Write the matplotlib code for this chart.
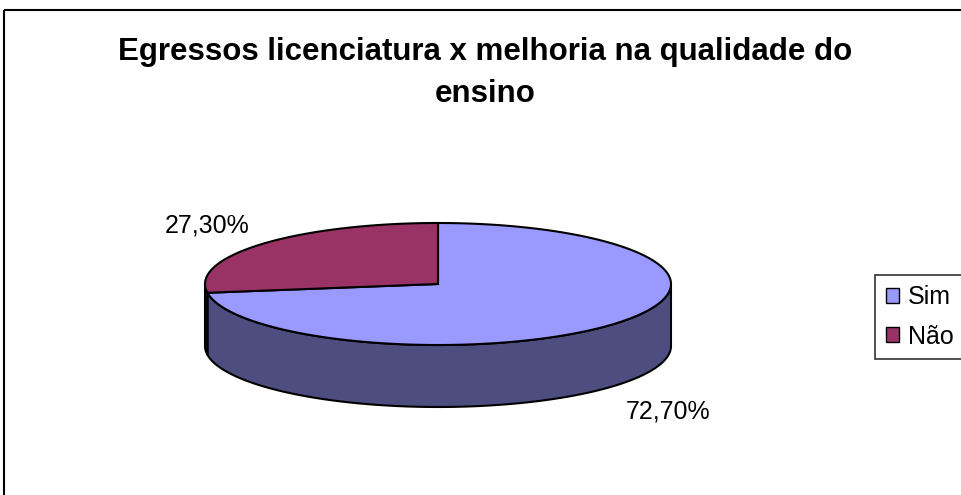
import numpy as np
import matplotlib
matplotlib.use('Agg')
import matplotlib.pyplot as plt
from matplotlib.patches import Polygon, Rectangle

plt.rcParams['font.family'] = ['Liberation Sans', 'DejaVu Sans']

# data
categorias = ['Sim', 'Não']
valores = [72.7, 27.3]
rotulos = ['72,70%', '27,30%']
titulo = 'Egressos licenciatura x melhoria na qualidade do\nensino'

cor_topo = ['#9999FF', '#993366']
cor_lado = ['#4D4D80', '#4D1A33']

# pie geometry (pixels)
cx, cy = 438, 284
ra, rb = 233, 61
prof = 62

fig = plt.figure(figsize=(9.61, 4.95), dpi=100)
ax = fig.add_axes([0, 0, 1, 1])
ax.set_xlim(0, 961)
ax.set_ylim(495, 0)
ax.axis('off')

# outer chart border
ax.add_patch(Rectangle((4, 10), 1000, 600, fill=False, ec='black', lw=1.5, zorder=1))


def arco(t0, t1, dy=0, n=200):
    t = np.radians(np.linspace(t0, t1, n))
    return np.column_stack([cx + ra * np.cos(t), cy - rb * np.sin(t) + dy])


# slice angle ranges: Sim clockwise from 12 o'clock, Não the rest
total = sum(valores)
ang_sim = valores[0] / total * 360
faixas = [(90 - ang_sim + 360, 450), (90, 90 - ang_sim + 360)]  # counterclockwise ranges

# side walls (front half: 180..360)
for (t0, t1), cl in zip(faixas, cor_lado):
    a0, a1 = max(t0, 180), min(t1, 360)
    if a1 > a0:
        top = arco(a0, a1)
        bot = arco(a1, a0, prof)
        ax.add_patch(Polygon(np.vstack([top, bot]), closed=True, fc=cl, ec='black',
                             lw=1.5, zorder=2))

# top faces
for (t0, t1), ct in zip(faixas, cor_topo):
    pts = np.vstack([[cx, cy], arco(t0, t1)])
    ax.add_patch(Polygon(pts, closed=True, fc=ct, ec='black', lw=1.5, zorder=3))

# data labels
ax.text(668, 411, rotulos[0], fontsize=18, ha='center', va='center')
ax.text(207, 225, rotulos[1], fontsize=18, ha='center', va='center')

# title
ax.text(485, 102, titulo, fontsize=22.5, fontweight='bold', ha='center', va='baseline',
        multialignment='center', linespacing=1.53)

# legend
handles = [Rectangle((0, 0), 1, 1, fc=c, ec='black', lw=1) for c in cor_topo]
leg = fig.legend(handles, categorias, loc='upper left',
                 bbox_to_anchor=(875 / 961, 1 - 275 / 495), fontsize=18,
                 frameon=True, fancybox=False, edgecolor='black',
                 handlelength=0.52, handleheight=0.52, handletextpad=0.36,
                 labelspacing=0.6, borderpad=0.42, borderaxespad=0)
leg.get_frame().set_linewidth(1.2)

fig.savefig('out.png', dpi=100, facecolor='white')
